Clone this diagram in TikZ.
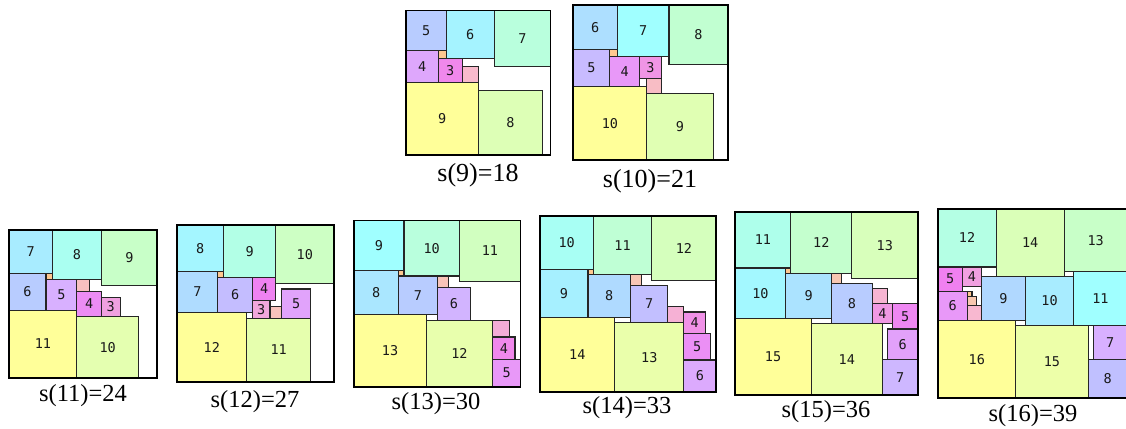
\documentclass[tikz,border=0pt]{standalone}
\usepackage{fontspec}
\setmainfont{Liberation Serif}
\newfontfamily\labfont{DejaVu Sans Mono}
\definecolor{P0}{HTML}{FFFF99}
\definecolor{P1}{HTML}{C8FFC8}
\definecolor{P2}{HTML}{A0FFFF}
\definecolor{P3}{HTML}{B0D8FF}
\definecolor{P4}{HTML}{C0C0FF}
\definecolor{P5}{HTML}{D8B0FF}
\definecolor{P6}{HTML}{E898F8}
\definecolor{P7}{HTML}{F080F0}
\definecolor{P8}{HTML}{F0A0E0}
\definecolor{P9}{HTML}{F8B8D0}
\definecolor{P10}{HTML}{F8C8B0}
\definecolor{P11}{HTML}{FFC890}
\tikzset{
  sqbox/.style={draw=black!85, line width=1.1pt},
  outerbox/.style={draw=black, line width=1.6pt},
  lab/.style={font=\labfont\fontsize{13.5}{13.5}\selectfont, text=black!90, inner sep=0pt},
  captop/.style={font=\fontsize{26}{26}\selectfont, anchor=base, inner sep=0pt},
  capbot/.style={font=\fontsize{24.5}{24.5}\selectfont, anchor=base, inner sep=0pt}
}
\newcommand\pickcol[1]{% t in [0,1]
  \foreach \a/\b/\i/\j in {0/0.2/0/1, 0.2/0.3333/1/2, 0.3333/0.4667/2/3, 0.4667/0.5333/3/4,
      0.5333/0.6/4/5, 0.6/0.6667/5/6, 0.6667/0.7333/6/7, 0.7333/0.8/7/8, 0.8/0.8667/8/9,
      0.8667/0.9333/9/10, 0.9333/1.0001/10/11}{%
    \ifdim#1pt<\a pt\relax\else
      \ifdim#1pt>\b pt\relax\else
        \pgfmathsetmacro\pp{max(0,min(100,100*(#1-\a)/(\b-\a)))}%
        \xglobal\colorlet{sqc}{P\j!\pp!P\i}%
      \fi
    \fi}%
}
\newcommand\sqsq[3]{% size, x, y
  \pgfmathsetmacro\tpos{(\pn-#1)/(\pn-1)}%
  \pickcol{\tpos}%
  \path[sqbox,fill=sqc] (#2,#3) rectangle ++(#1,#1);
  \ifnum#1<\lmin\relax\else \node[lab] (q\pn-#1) at (#2+#1/2,#3+#1/2) {#1};\fi
}
\newcommand\panel[6]{% n, s, ox, oy, scale, lmin ; list
  \begin{scope}[shift={(#3,#4)}, x=#5pt, y=#5pt]
    \def\pn{#1}\def\lmin{#6}%
    \fill[white] (0,0) rectangle (#2,#2);
    \foreach \k/\a/\b in \sqlist {\sqsq{\k}{\a}{\b}}
    \path[outerbox] (0,0) rectangle (#2,#2);
  \end{scope}
}
\begin{document}
\begin{tikzpicture}[x=1pt,y=1pt]
\clip (0,0) rectangle (1126,428);
\fill[white] (0,0) rectangle (1126,428);

\def\sqlist{9/0/0, 8/9/0, 7/11/11, 6/5/12, 5/0/13, 4/0/9, 3/4/9, 2/7/9, 1/4/12}
\panel{9}{18}{406}{273}{8.03}{3}
\def\sqlist{10/0/0, 9/10/0, 8/13/13, 7/6/14, 6/0/15, 5/0/10, 4/5/10, 3/9/11, 2/10/9, 1/5/14}
\panel{10}{21}{573}{268}{7.38}{3}
\def\sqlist{11/0/0, 10/11/0, 9/15/15, 8/7/16, 7/0/17, 6/0/11, 5/6/11, 4/11/10, 3/15/10, 2/11/14, 1/6/16}
\panel{11}{24}{9}{50}{6.17}{3}
\def\sqlist{12/0/0, 11/12/0, 10/17/17, 9/8/18, 8/0/19, 7/0/12, 6/7/12, 5/18/11, 4/13/14, 3/13/11, 2/16/11, 1/7/18}
\panel{12}{27}{177}{46}{5.81}{3}
\def\sqlist{13/0/0, 12/13/0, 11/19/19, 10/9/20, 9/0/21, 8/0/13, 7/8/13, 6/15/12, 5/25/0, 4/25/5, 3/25/9, 2/15/18, 1/8/20}
\panel{13}{30}{354}{41}{5.55}{4}
\def\sqlist{14/0/0, 13/14/0, 12/21/21, 11/10/22, 10/0/23, 9/0/14, 8/9/14, 7/17/13, 6/27/0, 5/27/6, 4/27/11, 3/24/13, 2/17/20, 1/9/22}
\panel{14}{33}{540}{36}{5.33}{4}
\def\sqlist{15/0/0, 14/15/0, 13/23/23, 12/11/24, 11/0/25, 10/0/15, 9/10/15, 8/19/14, 7/29/0, 6/30/7, 5/31/13, 4/27/14, 3/27/18, 2/19/22, 1/10/24}
\panel{15}{36}{735}{33}{5.08}{4}
\def\sqlist{16/0/0, 15/16/0, 14/12/25, 13/26/26, 12/0/27, 11/28/15, 10/18/15, 9/9/16, 8/31/0, 7/32/8, 6/0/16, 5/0/22, 4/5/23, 3/6/16, 2/6/19, 1/6/21}
\panel{16}{39}{938}{30}{4.85}{4}

\node[captop] (c9) at (478,246) {s(9)=18};
\node[captop] (c10) at (650,240) {s(10)=21};
\node[capbot] (c11) at (83,27) {s(11)=24};
\node[capbot] (c12) at (255,20) {s(12)=27};
\node[capbot] (c13) at (436,18) {s(13)=30};
\node[capbot] (c14) at (627,14) {s(14)=33};
\node[capbot] (c15) at (826,10) {s(15)=36};
\node[capbot] (c16) at (1033,6) {s(16)=39};
\end{tikzpicture}
\end{document}
